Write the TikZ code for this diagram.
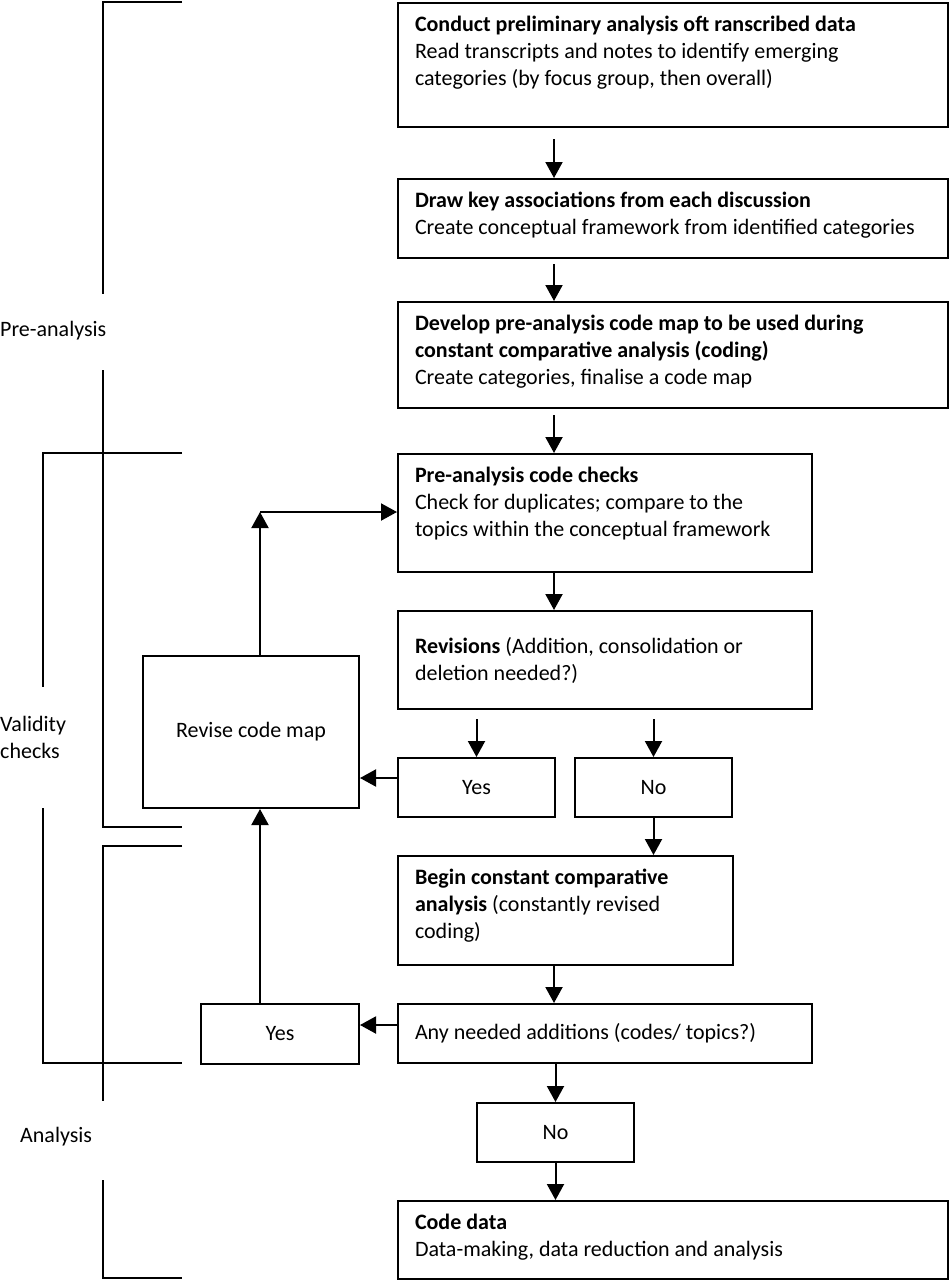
\documentclass[tikz,border=0pt]{standalone}
\usepackage{fontspec}
\setmainfont{Carlito}
\usetikzlibrary{arrows.meta,calc}
\definecolor{flowink}{HTML}{000000}

\begin{document}
\begin{tikzpicture}[x=1pt, y=-1pt,
  stage/.style={draw=flowink, line width=2pt, anchor=north west, align=flush left,
                inner xsep=17pt, inner ysep=0pt, text height=28pt,
                font=\fontsize{22}{27}\selectfont},
  query/.style={draw=flowink, line width=2pt, anchor=north west, align=flush left,
                inner xsep=17pt, inner ysep=0pt, font=\fontsize{22}{27}\selectfont},
  choice/.style={draw=flowink, line width=2pt, anchor=north west, align=center,
                 inner sep=0pt, font=\fontsize{22}{27}\selectfont},
  phase/.style={anchor=west, align=flush left, inner sep=0pt, font=\fontsize{22}{27}\selectfont},
  brace/.style={line width=2pt, draw=flowink},
  arr/.style={-{Triangle[length=16pt,width=17pt]}, line width=2pt, draw=flowink}
]
\useasboundingbox (0,0) rectangle (949,1280);

% main column
\node[stage, text width=516pt, text depth=96pt] (prelim) at (397,2)
  {\textbf{Conduct preliminary analysis oft ranscribed data}\\Read transcripts and notes to identify emerging\\categories (by focus group, then overall)};
\node[stage, text width=516pt, text depth=51pt] (assoc) at (397,178)
  {\textbf{Draw key associations from each discussion}\\Create conceptual framework from identified categories};
\node[stage, text width=516pt, text depth=78pt] (codemap) at (397,301)
  {\textbf{Develop pre-analysis code map to be used during}\\\textbf{constant comparative analysis (coding)}\\Create categories, finalise a code map};
\node[stage, text width=380pt, text depth=90pt] (checks) at (397,453)
  {\textbf{Pre-analysis code checks}\\Check for duplicates; compare to the\\topics within the conceptual framework};
\node[query, text width=380pt, minimum height=98pt] (revisions) at (397,610)
  {\textbf{Revisions} (Addition, consolidation or\\deletion needed?)};
\node[choice, minimum width=157pt, minimum height=59pt] (yesrev) at (397,757) {Yes};
\node[choice, minimum width=157pt, minimum height=59pt] (norev) at (574,757) {No};
\node[choice, minimum width=216pt, minimum height=152pt] (revise) at (142,655) {Revise code map};
\node[stage, text width=301pt, text depth=81pt] (constant) at (397,855)
  {\textbf{Begin constant comparative}\\\textbf{analysis} (constantly revised\\coding)};
\node[query, text width=380pt, minimum height=59pt] (additions) at (397,1003)
  {Any needed additions (codes/ topics?)};
\node[choice, minimum width=158pt, minimum height=60pt] (yesadd) at (200,1003) {Yes};
\node[choice, minimum width=157pt, minimum height=59pt] (noadd) at (476,1102) {No};
\node[stage, text width=516pt, text depth=50pt] (codedata) at (397,1200)
  {\textbf{Code data}\\Data-making, data reduction and analysis};

% phase labels
\node[phase] (pre) at (0,331) {Pre-analysis};
\node[phase] (valid) at (0,737) {Validity\\checks};
\node[phase] (ana) at (20,1137) {Analysis};

% brackets
\draw[brace] (182,2) -- (103,2) -- (103,294);
\draw[brace] (103,370) -- (103,827) -- (182,827);
\draw[brace] (182,453) -- (43,453) -- (43,687);
\draw[brace] (43,808) -- (43,1063) -- (182,1063);
\draw[brace] (182,846) -- (103,846) -- (103,1101);
\draw[brace] (103,1180) -- (103,1278) -- (182,1278);

% connectors
\coordinate (spine) at (554,0);
\coordinate (loop) at (260,512);
\coordinate (yesout) at ([yshift=9.5pt]yesrev.west);
\coordinate (addout) at ([yshift=8.5pt]additions.west);
\draw[arr, shorten <=11pt] (prelim.south -| spine) -- (assoc.north -| spine);
\draw[arr, shorten <=5pt] (assoc.south -| spine) -- (codemap.north -| spine);
\draw[arr, shorten <=6pt] (codemap.south -| spine) -- (checks.north -| spine);
\draw[arr] (checks.south -| spine) -- (revisions.north -| spine);
\draw[arr, shorten <=9pt] (revisions.south -| yesrev) -- (yesrev.north);
\draw[arr, shorten <=9pt] (revisions.south -| norev) -- (norev.north);
\draw[arr] (yesout) -- (yesout -| revise.east);
\draw[arr] (norev.south) -- (constant.north -| norev);
\draw[arr] (constant.south -| spine) -- (additions.north -| spine);
\draw[arr] (addout) -- (addout -| yesadd.east);
\draw[arr] (additions.south -| noadd) -- (noadd.north);
\draw[arr] (noadd.south) -- (codedata.north -| noadd);
\draw[arr] (yesadd.north -| loop) -- (revise.south -| loop);
\draw[arr] (revise.north -| loop) -- (loop);
\draw[arr] (loop) -- (checks.west |- loop);
\end{tikzpicture}
\end{document}
